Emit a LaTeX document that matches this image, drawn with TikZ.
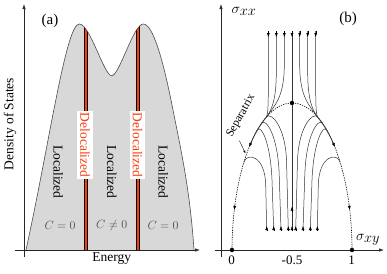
\documentclass[tikz,border=0pt]{standalone}
\usepackage{fontspec}
\setmainfont{Liberation Serif}
\usetikzlibrary{arrows.meta,positioning,calc}
\definecolor{deloc}{RGB}{250,60,15}
\definecolor{dosgray}{RGB}{216,216,216}
\tikzset{
 axis/.style={->,line width=.7pt,black!85},
 flow/.style={line width=.5pt,black!80},
 sepline/.style={line width=.6pt,dash pattern=on 1.3pt off 1.1pt},
 tip/.style={-{Latex[length=4pt,width=3pt]},solid,black},
 bar/.style={fill=deloc,draw=black,line width=.9pt},
 deltext/.style={rotate=-90,fill=white,text=deloc,inner xsep=1.5pt,inner ysep=3pt},
 loctext/.style={rotate=-90},
 chern/.style={text=black!70,font=\fontsize{12}{14}\selectfont}
}
\begin{document}
\begin{tikzpicture}[x=1pt,y=-1pt,>={Latex[length=5pt,width=3.5pt]},font=\fontsize{13.5}{16}\selectfont]
\useasboundingbox(0,0)rectangle(387,273);
% (a) density of states
\begin{scope}
\clip(26,250) .. controls (50,140) and (66,24) .. (79.3,24) .. controls (90,24) and (104,75.7) .. (111.7,75.7) .. controls (119.4,75.7) and (133.4,24) .. (143.3,24) .. controls (153,24) and (163,60) .. (172,105) .. controls (181,150) and (190,190) .. (194,250)--cycle;
\fill[dosgray](0,0)rectangle(200,260);
\draw[bar](84.3,15)rectangle(87.8,252);
\draw[bar](136.2,15)rectangle(139.7,252);
\end{scope}
\draw[black!70,line width=.6pt](26,250) .. controls (50,140) and (66,24) .. (79.3,24) .. controls (90,24) and (104,75.7) .. (111.7,75.7) .. controls (119.4,75.7) and (133.4,24) .. (143.3,24) .. controls (153,24) and (163,60) .. (172,105) .. controls (181,150) and (190,190) .. (194,250);
\draw[axis](24,257)--(24,4);
\draw[axis](15,250)--(200,250);
\node[rotate=90](dosl)at(10,124){Density of States};
\node(enl)at(111.7,259){Energy};
\node[font=\fontsize{15}{17}\selectfont](lbla)at(50,21){(a)};
\node[deltext](del1)at(85,145){Delocalized};
\node[deltext](del2)at(137.5,145){Delocalized};
\node[loctext](loc1)at(58.3,172){Localized};
\node[loctext](loc2)at(111.7,172){Localized};
\node[loctext](loc3)at(163.3,172){Localized};
\node[chern](c1)at(60,225){$C=0$};
\node[chern](c2)at(111.7,225){$C\neq0$};
\node[chern](c3)at(163,225){$C=0$};
% (b) flow diagram
\draw[axis](221,257)--(221,4);
\draw[axis](215,250)--(384,250);
\begin{scope}[shift={(292,0)}]
\draw[sepline]plot[domain=0:180,samples=73]({60*cos(\x)},{250-147*sin(\x)});
\draw[flow](0,31)--(0,230);
\draw[tip](0,31)--(0,37);
\draw[tip](0,231)--(0,226);
\draw[tip](0,212)--(0,206.5);
\fill(0,103)circle[radius=2.2];
\foreach \s in {1,-1}{
\begin{scope}[xscale=\s]
\draw[flow,line width=.8pt]plot[domain=115:134,samples=10]({60*cos(\x)},{250-147*sin(\x)});
\draw[tip]({60*cos(132.5)},{250-147*sin(132.5)})--({60*cos(135.5)},{250-147*sin(135.5)});
\draw[tip]({60*cos(162)},{250-147*sin(162)})--({60*cos(164.2)},{250-147*sin(164.2)});
\draw[flow](-23.7,31)--(-23.7,85) .. controls (-23.7,105) and (-24,112) .. (-25.3,116.7);
\draw[flow](-15.7,31)--(-15.7,72) .. controls (-15.7,100) and (-20.5,110) .. (-25.3,116.7);
\draw[flow](-7.7,31)--(-7.7,65) .. controls (-7.7,98) and (-18,106) .. (-25.3,116.7);
\foreach \xt in {-23.7,-15.7,-7.7}\draw[tip](\xt,31)--(\xt,37);
\draw[flow](-3.7,230)--(-5.5,160) .. controls (-7,125) and (-21.3,112.2) .. (-25.3,116.7);
\draw[flow](-11,230)--(-12.8,175) .. controls (-14,135) and (-26.4,117.6) .. (-30.4,123.3);
\draw[flow](-18.3,230)--(-20,180) .. controls (-21.5,142) and (-31.2,123.9) .. (-34.7,130);
\draw[flow](-25.3,230)--(-26.3,185) .. controls (-27,155) and (-45.2,152.4) .. (-48.1,162);
\foreach \xb in {-3.7,-11,-18.3,-25.3}\draw[tip](\xb,231)--(\xb,226);
\end{scope}}
\fill(-60,250)circle[radius=2.2];
\fill(60,250)circle[radius=2.2];
\end{scope}
\node[rotate=61,font=\fontsize{11.5}{13}\selectfont,inner sep=1pt](sepl)at(241,116){Separatrix};
\coordinate(sepend)at(245.5,153.5);
\draw[-{Latex[length=3pt,width=2.2pt]},line width=.4pt]([xshift=5pt]sepl.south west)--(sepend);
\node[font=\fontsize{14.5}{17}\selectfont](sxx)at(244,11){$\sigma_{\textstyle xx}$};
\node[font=\fontsize{14.5}{17}\selectfont](sxy)at(368,240){$\sigma_{\textstyle xy}$};
\node[font=\fontsize{15}{17}\selectfont](lblb)at(348,19){(b)};
\node[font=\fontsize{13}{15}\selectfont](tk0)at(231.7,260){0};
\node[font=\fontsize{13}{15}\selectfont](tkh)at(292,260){-0.5};
\node[font=\fontsize{13}{15}\selectfont](tk1)at(351.7,260){1};
\end{tikzpicture}
\end{document}
